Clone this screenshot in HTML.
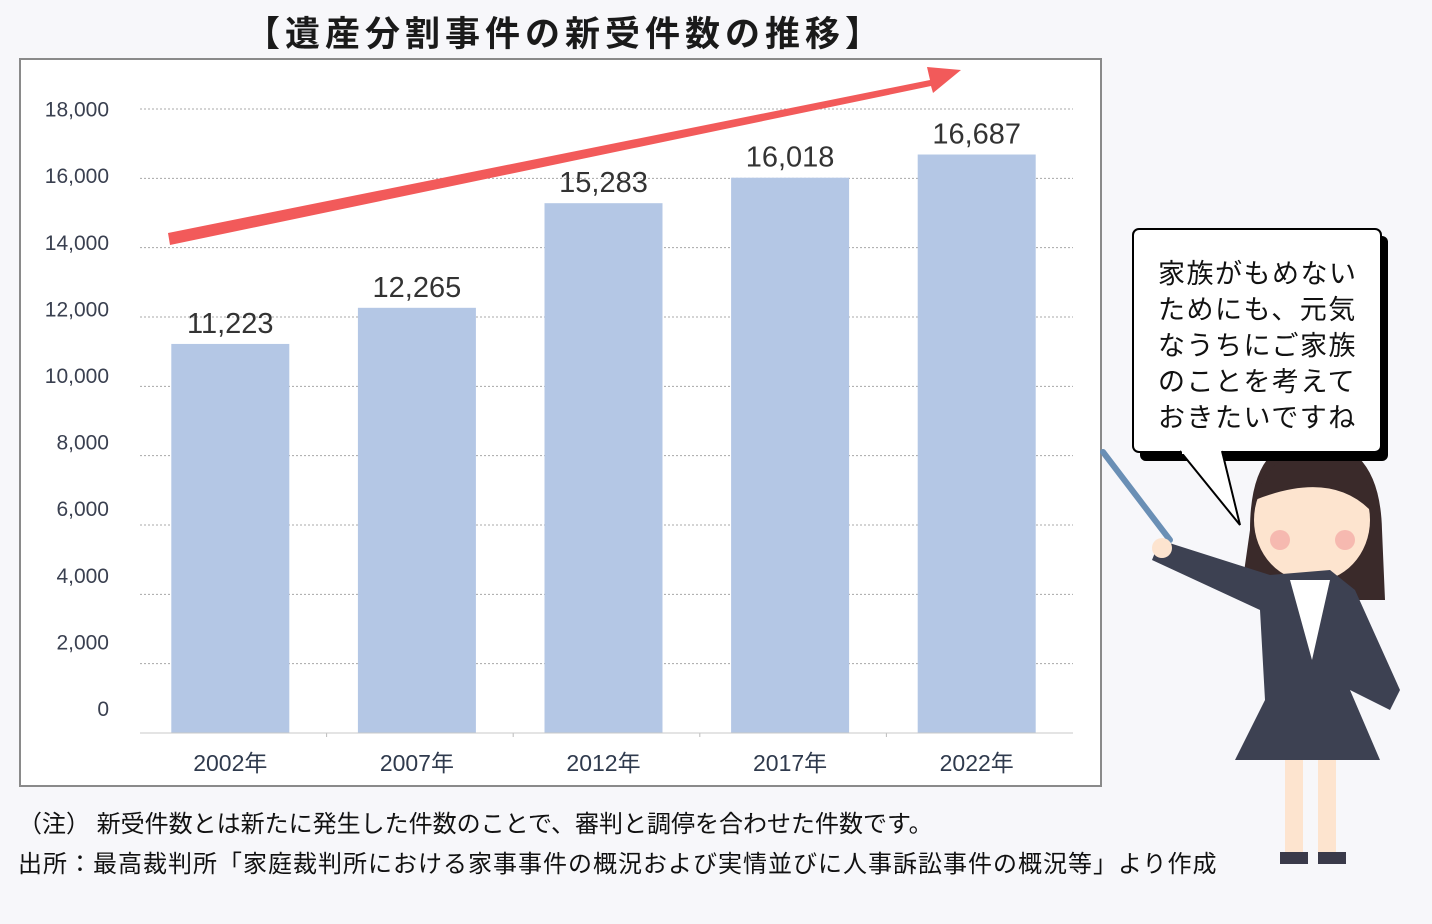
<!DOCTYPE html>
<html><head><meta charset="utf-8"><style>
body{margin:0;width:1432px;height:924px;background:#f7f7fa;font-family:"Liberation Sans","Noto Sans CJK JP",sans-serif;overflow:hidden;position:relative}
.t{position:absolute;white-space:nowrap}
</style></head><body>
<div class="t" style="left:245px;top:6px;font-size:35px;font-weight:bold;color:#1a1a1a;letter-spacing:5px">【遺産分割事件の新受件数の推移】</div>
<svg width="1432" height="924" style="position:absolute;left:0;top:0">
<rect x="20" y="59" width="1081" height="727" fill="#fff" stroke="#8a8a8a" stroke-width="2"/>
<g id="grid"></g><g id="bars"></g><g id="labels"></g>
<line x1="140" y1="733" x2="1073" y2="733" stroke="#c8c8c8"/>
<polygon points="168,233 930,80 927,67 961,70 933,93 931,86 170,245" fill="#f25a5a"/>
<g>
<line x1="1103" y1="452" x2="1170" y2="540" stroke="#6a8fb5" stroke-width="6" stroke-linecap="round"/>
<path d="M1250 530 Q1250 440 1310 440 Q1380 440 1382 530 L1385 600 L1240 600 Z" fill="#3a2a2a"/>
<ellipse cx="1312" cy="520" rx="58" ry="62" fill="#fde4cf"/>
<path d="M1255 500 Q1270 450 1320 448 Q1370 455 1370 510 Q1330 470 1255 500Z" fill="#3a2a2a"/>
<circle cx="1280" cy="540" r="10" fill="#f6b9b0"/><circle cx="1345" cy="540" r="10" fill="#f6b9b0"/>
<path d="M1270 575 L1160 540 L1152 560 L1260 610 L1265 700 L1235 760 L1380 760 L1350 690 L1390 710 L1400 690 L1355 590 L1330 570 Z" fill="#3d4152"/>
<path d="M1290 580 L1312 660 L1330 580 Z" fill="#fff"/>
<rect x="1285" y="760" width="18" height="95" fill="#fde4cf"/><rect x="1318" y="760" width="18" height="95" fill="#fde4cf"/>
<rect x="1280" y="852" width="28" height="12" fill="#3a3a4a"/><rect x="1318" y="852" width="28" height="12" fill="#3a3a4a"/>
<circle cx="1162" cy="548" r="10" fill="#fde4cf"/>
</g>
<g>
<rect x="1140" y="236" width="248" height="225" rx="6" fill="#000"/>
<rect x="1133" y="229" width="248" height="223" rx="6" fill="#fff" stroke="#000" stroke-width="2"/>
<path d="M1180 451 L1240 525 L1222 451" fill="#fff" stroke="#000" stroke-width="2"/>
<rect x="1182" y="446" width="38" height="8" fill="#fff"/>
</g>
</svg>
<div class="t" style="left:1158px;top:256px;font-size:27px;line-height:36px;color:#111;letter-spacing:1.5px">家族がもめない<br>ためにも、元気<br>なうちにご家族<br>のことを考えて<br>おきたいですね</div>
<div class="t" style="left:18px;top:804px;font-size:24px;color:#111;letter-spacing:0px">（注）&nbsp;新受件数とは新たに発生した件数のことで、審判と調停を合わせた件数です。</div>
<div class="t" style="left:18px;top:844px;font-size:24px;color:#111;letter-spacing:1px">出所：最高裁判所「家庭裁判所における家事事件の概況および実情並びに人事訴訟事件の概況等」より作成</div>
<script>
const categories=["2002年","2007年","2012年","2017年","2022年"];
const values=[11223,12265,15283,16018,16687];
const valueLabels=["11,223","12,265","15,283","16,018","16,687"];
const ticks=[0,2000,4000,6000,8000,10000,12000,14000,16000,18000];
const tickLabels=["0","2,000","4,000","6,000","8,000","10,000","12,000","14,000","16,000","18,000"];
const NS="http://www.w3.org/2000/svg";
const y=v=>733-v*(624/18000);
const x0=140,step=186.6;
const cx=i=>x0+step*(i+0.5)-3;
const g=document.getElementById('grid'),b=document.getElementById('bars'),l=document.getElementById('labels');
function mk(tag,attrs,parent){const e=document.createElementNS(NS,tag);for(const k in attrs)e.setAttribute(k,attrs[k]);parent.appendChild(e);return e;}
ticks.forEach((t,i)=>{
 if(t>0){const ln=mk('line',{x1:140,x2:1073,y1:y(t),y2:y(t),stroke:'#a8a8a8','stroke-dasharray':'2,2'},g);
 
 }
 const tx=mk('text',{x:109,y:708-i*66.6+8,'text-anchor':'end','font-size':'21','fill':'#3a4050','font-family':'Liberation Sans, sans-serif'},l);
 tx.textContent=tickLabels[i];
 
 
});
categories.forEach((c,i)=>{
 const r=mk('rect',{x:cx(i)-59,y:y(values[i]),width:118,height:733-y(values[i]),fill:'#b4c7e5'},b);
 
 
 const v=mk('text',{x:cx(i),y:y(values[i])-11,'text-anchor':'middle','font-size':'29','fill':'#333','font-family':'Liberation Sans, sans-serif'},l);
 v.textContent=valueLabels[i];
 
 
 const xl=mk('text',{x:cx(i),y:771,'text-anchor':'middle','font-size':'23','fill':'#2f3a4d','font-family':'Liberation Sans, Noto Sans CJK JP, sans-serif'},l);
 xl.textContent=c;
 
 
 if(i>0){const tk=mk('line',{x1:x0+step*i,x2:x0+step*i,y1:733,y2:737,stroke:'#bbb'},g);
 
 }
});
</script>
</body></html>
